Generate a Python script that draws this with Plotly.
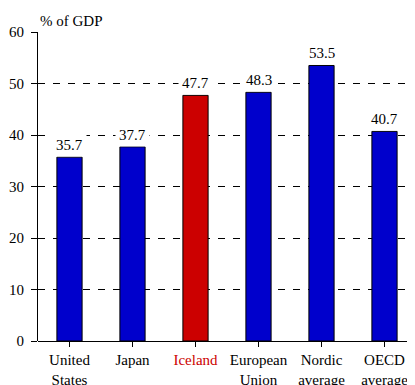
import plotly.graph_objects as go

categories = ["United<br>States", "Japan", "Iceland", "European<br>Union", "Nordic<br>average", "OECD<br>average"]
values = [35.7, 37.7, 47.7, 48.3, 53.5, 40.7]
highlight = "Iceland"
y_ticks = [0, 10, 20, 30, 40, 50, 60]

BLUE = "#0000CC"
RED = "#CC0000"
FONT = "Liberation Serif"

colors = [RED if c == highlight else BLUE for c in categories]
tick_text = [f'<span style="color:{RED}">{c}</span>' if c == highlight else c for c in categories]

fig = go.Figure(
    go.Bar(
        x=categories,
        y=values,
        marker=dict(color=colors, line=dict(color="black", width=1)),
        width=0.4,
        cliponaxis=False,
    )
)

# value labels sit on a white box so the dashed grid breaks around them
labels = [
    dict(x=c, y=v, text=f"{v:.1f}", xref="x", yref="y", yanchor="bottom", yshift=0,
         showarrow=False, bgcolor="white", borderpad=3,
         font=dict(family=FONT, size=15, color="black"))
    for c, v in zip(categories, values)
]

# page body adds an 8px offset, so margins are trimmed by that much
fig.update_layout(
    width=415,
    height=385,
    margin=dict(l=30, r=7, t=24, b=52),
    paper_bgcolor="white",
    plot_bgcolor="white",
    font=dict(family=FONT, size=15, color="black"),
    showlegend=False,
    annotations=labels + [
        dict(text="% of GDP", xref="paper", yref="paper", x=0, y=1, xanchor="left",
             yanchor="bottom", yshift=1, showarrow=False, font=dict(family=FONT, size=15))
    ],
)
fig.update_xaxes(
    tickmode="array",
    tickvals=categories,
    ticktext=tick_text,
    ticks="outside",
    ticklen=5,
    tickcolor="black",
    showline=False,
    showgrid=False,
    automargin=False,
)
fig.update_yaxes(
    range=[0, 60],
    tickvals=y_ticks,
    ticks="outside",
    ticklen=6,
    tickcolor="black",
    ticklabelstandoff=4,
    showline=True,
    linecolor="black",
    linewidth=1,
    showgrid=True,
    gridcolor="black",
    gridwidth=1,
    griddash="7px,8px",
    zeroline=True,
    zerolinecolor="black",
    zerolinewidth=1,
    automargin=False,
    layer="below traces",
)

fig.write_html("out.html")
